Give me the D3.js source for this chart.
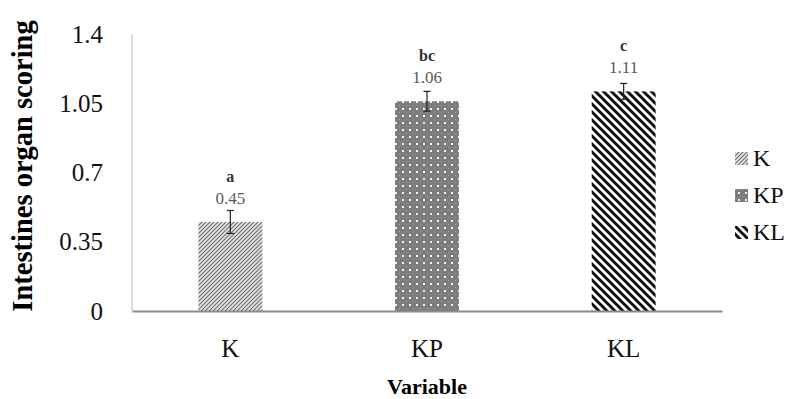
<!DOCTYPE html>
<html lang="en">
<head>
    <meta charset="UTF-8">
    <title>Intestines organ scoring</title>
    <script src="https://d3js.org/d3.v7.min.js"></script>
    <style>
        body { margin: 0; background: white; }
        svg text { font-family: "Liberation Serif", "Times New Roman", serif; }
    </style>
</head>
<body>
    <div id="chart"></div>
    <script>
        const categories = ["K", "KP", "KL"];
        const values = [0.45, 1.06, 1.11];
        const errors = [0.058, 0.05, 0.04];
        const letters = ["a", "bc", "c"];
        const yTicks = [0, 0.35, 0.7, 1.05, 1.4];

        const width = 790, height = 399;
        const margin = { top: 34, right: 68, bottom: 88, left: 132 };

        const svg = d3.select("#chart")
            .append("svg")
            .attr("width", width)
            .attr("height", height);

        // fill patterns, one per group
        const defs = svg.append("defs");

        const pK = defs.append("pattern")
            .attr("id", "pat-K")
            .attr("patternUnits", "userSpaceOnUse")
            .attr("width", 4).attr("height", 4);
        pK.append("rect").attr("width", 4).attr("height", 4).attr("fill", "#e6e6e6");
        pK.append("path")
            .attr("d", "M-1,1 L1,-1 M0,4 L4,0 M3,5 L5,3")
            .attr("stroke", "#6e6e6e").attr("stroke-width", 1.2);

        const pKP = defs.append("pattern")
            .attr("id", "pat-KP")
            .attr("patternUnits", "userSpaceOnUse")
            .attr("width", 7).attr("height", 7);
        pKP.append("rect").attr("width", 7).attr("height", 7).attr("fill", "#7d7d7d");
        pKP.append("rect").attr("x", 3).attr("y", 3).attr("width", 2).attr("height", 2).attr("fill", "#f2f2f2");
        pKP.append("rect").attr("x", 0).attr("y", 0).attr("width", 1).attr("height", 1).attr("fill", "#a5a5a5");

        const pKL = defs.append("pattern")
            .attr("id", "pat-KL")
            .attr("patternUnits", "userSpaceOnUse")
            .attr("width", 8).attr("height", 8);
        pKL.append("rect").attr("width", 8).attr("height", 8).attr("fill", "white");
        pKL.append("path")
            .attr("d", "M-2,-2 L10,10 M-2,6 L2,10 M6,-2 L10,2")
            .attr("stroke", "#111").attr("stroke-width", 3);

        const patterns = { K: "url(#pat-K)", KP: "url(#pat-KP)", KL: "url(#pat-KL)" };

        const x = d3.scaleBand()
            .domain(categories)
            .range([margin.left, width - margin.right])
            .paddingInner(0.675)
            .paddingOuter(0.3375);

        const y = d3.scaleLinear()
            .domain([0, 1.4])
            .range([height - margin.bottom, margin.top]);

        const data = categories.map((c, i) => ({ cat: c, value: values[i], err: errors[i], letter: letters[i] }));

        // y tick labels (no tick marks, no gridlines)
        const yAxis = svg.append("g")
            .attr("transform", `translate(${margin.left - 29},0)`)
            .call(d3.axisLeft(y).tickValues(yTicks).tickSize(0).tickPadding(0).tickFormat(d => d3.format("")(d)));
        yAxis.select(".domain").remove();
        yAxis.selectAll("text")
            .attr("font-size", 25)
            .attr("fill", "#111")
            .attr("font-family", "Liberation Serif");

        // bars
        svg.selectAll(".bar")
            .data(data)
            .enter()
            .append("rect")
            .attr("class", "bar")
            .attr("x", d => x(d.cat))
            .attr("y", d => y(d.value))
            .attr("width", x.bandwidth())
            .attr("height", d => y(0) - y(d.value))
            .attr("fill", d => patterns[d.cat]);

        // x axis line and labels
        const xAxis = svg.append("g")
            .attr("transform", `translate(0,${y(0)})`)
            .call(d3.axisBottom(x).tickSize(0).tickPadding(28).tickSizeOuter(0));
        xAxis.select(".domain").attr("stroke", "#8c8c8c").attr("stroke-width", 2);
        xAxis.selectAll("text")
            .attr("font-size", 25)
            .attr("fill", "#111")
            .attr("font-family", "Liberation Serif");

        // left axis line
        svg.append("line")
            .attr("x1", margin.left).attr("x2", margin.left)
            .attr("y1", y(1.4)).attr("y2", y(0))
            .attr("stroke", "#bdbdbd").attr("stroke-width", 1);

        // error bars
        const eb = svg.selectAll(".err")
            .data(data)
            .enter()
            .append("g")
            .attr("class", "err")
            .attr("stroke", "#222")
            .attr("stroke-width", 1.2);
        eb.append("line")
            .attr("x1", d => x(d.cat) + x.bandwidth() / 2)
            .attr("x2", d => x(d.cat) + x.bandwidth() / 2)
            .attr("y1", d => y(d.value + d.err))
            .attr("y2", d => y(d.value - d.err));
        eb.append("line")
            .attr("x1", d => x(d.cat) + x.bandwidth() / 2 - 3.5)
            .attr("x2", d => x(d.cat) + x.bandwidth() / 2 + 3.5)
            .attr("y1", d => y(d.value + d.err))
            .attr("y2", d => y(d.value + d.err));
        eb.append("line")
            .attr("x1", d => x(d.cat) + x.bandwidth() / 2 - 3.5)
            .attr("x2", d => x(d.cat) + x.bandwidth() / 2 + 3.5)
            .attr("y1", d => y(d.value - d.err))
            .attr("y2", d => y(d.value - d.err));

        // value labels
        svg.selectAll(".val")
            .data(data)
            .enter()
            .append("text")
            .attr("class", "val")
            .attr("x", d => x(d.cat) + x.bandwidth() / 2)
            .attr("y", d => y(d.value) - 18)
            .attr("text-anchor", "middle")
            .attr("font-size", 17)
            .attr("fill", "#595959")
            .text(d => d3.format(".2f")(d.value));

        // significance letters
        svg.selectAll(".letter")
            .data(data)
            .enter()
            .append("text")
            .attr("class", "letter")
            .attr("x", d => x(d.cat) + x.bandwidth() / 2)
            .attr("y", d => y(d.value) - 40)
            .attr("text-anchor", "middle")
            .attr("font-size", 16)
            .attr("font-weight", "bold")
            .attr("fill", "#333")
            .text(d => d.letter);

        // axis titles
        svg.append("text")
            .attr("x", x("KP") + x.bandwidth() / 2)
            .attr("y", 394)
            .attr("text-anchor", "middle")
            .attr("font-size", 22)
            .attr("font-weight", "bold")
            .text("Variable");

        svg.append("text")
            .attr("transform", `translate(32,166) rotate(-90)`)
            .attr("text-anchor", "middle")
            .attr("font-size", 28.5)
            .attr("font-weight", "bold")
            .text("Intestines organ scoring");

        // legend
        const legend = svg.selectAll(".legend")
            .data(categories)
            .enter()
            .append("g")
            .attr("class", "legend")
            .attr("transform", (d, i) => `translate(735,${152 + i * 37})`);
        legend.append("rect")
            .attr("width", 13).attr("height", 13)
            .attr("fill", d => patterns[d]);
        legend.append("text")
            .attr("x", 18).attr("y", 14)
            .attr("font-size", 24)
            .attr("fill", "#111")
            .text(d => d);
    </script>
</body>
</html>
